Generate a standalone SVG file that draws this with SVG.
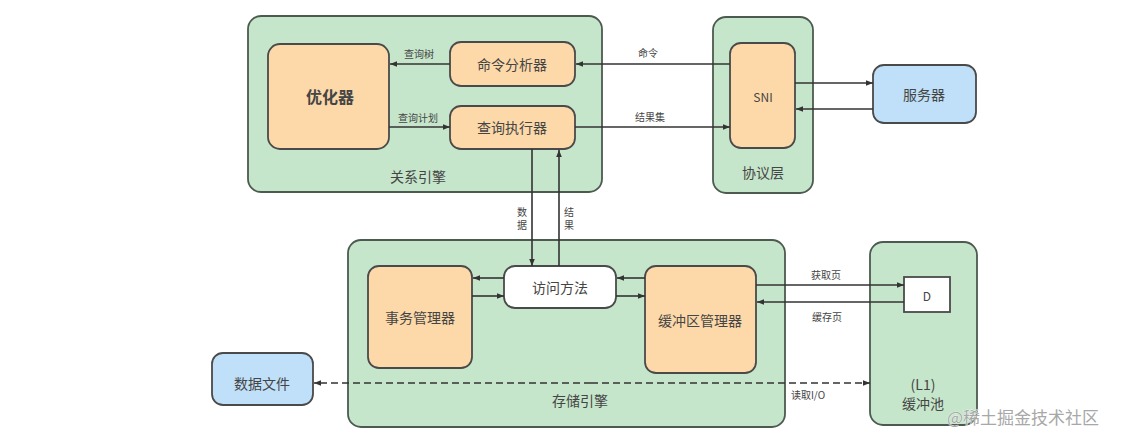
<svg xmlns="http://www.w3.org/2000/svg" width="1122" height="442" viewBox="0 0 1122 442">
<style>
.grp{fill:#c6e6cb;stroke:#4d5a4f;stroke-width:1.8}
.org{fill:#fdd9a9;stroke:#4a4a4a;stroke-width:1.8}
.blu{fill:#bfe0f8;stroke:#4a4a4a;stroke-width:1.8}
.wht{fill:#ffffff;stroke:#4a4a4a;stroke-width:1.8}
.t{font-family:"Noto Sans CJK SC","Liberation Sans",sans-serif;fill:#454545;text-anchor:middle;dominant-baseline:central}
.big{font-size:14px}
.sm{font-size:10px}
.ln{stroke:#333;stroke-width:1.6;fill:none}
.da{stroke:#333;stroke-width:1.6;fill:none;stroke-dasharray:7 4}
</style>
<defs>
<marker id="ah" viewBox="0 0 10 10" refX="10" refY="5" markerWidth="7" markerHeight="7" orient="auto-start-reverse" markerUnits="userSpaceOnUse">
<path d="M0,1 L10,5 L0,9 Z" fill="#333"/>
</marker>
</defs>
<rect width="1122" height="442" fill="#ffffff"/>

<g id="relational-engine">
<rect class="grp" x="248" y="16" width="354" height="176" rx="13"/>
<text class="t big" x="418" y="176">关系引擎</text>
</g>
<g id="optimizer">
<rect class="org" x="268" y="44" width="121" height="105" rx="12"/>
<text class="t" x="330" y="96" style="font-size:16px;font-weight:bold">优化器</text>
</g>
<g id="parser">
<rect class="org" x="450" y="42" width="125" height="44" rx="11"/>
<text class="t big" x="512" y="64">命令分析器</text>
</g>
<g id="executor">
<rect class="org" x="450" y="106" width="125" height="43" rx="11"/>
<text class="t big" x="512" y="127">查询执行器</text>
</g>

<g id="protocol-layer">
<rect class="grp" x="713" y="17" width="100" height="176" rx="13"/>
<text class="t big" x="763" y="172">协议层</text>
</g>
<g id="sni">
<rect class="org" x="730" y="43" width="65" height="105" rx="11"/>
<text class="t" x="763" y="96" style="font-size:12px">SNI</text>
</g>
<g id="server">
<rect class="blu" x="873" y="65" width="103" height="58" rx="11"/>
<text class="t big" x="924" y="94">服务器</text>
</g>

<g id="storage-engine">
<rect class="grp" x="348" y="240" width="437" height="187" rx="13"/>
<text class="t big" x="580" y="400">存储引擎</text>
</g>
<g id="txn-manager">
<rect class="org" x="368" y="266" width="104" height="102" rx="11"/>
<text class="t big" x="420" y="317">事务管理器</text>
</g>
<g id="access-method">
<rect class="wht" x="504" y="266" width="112" height="42" rx="11"/>
<text class="t big" x="560" y="287">访问方法</text>
</g>
<g id="buffer-manager">
<rect class="org" x="645" y="266" width="111" height="107" rx="11"/>
<text class="t big" x="700" y="320">缓冲区管理器</text>
</g>

<g id="buffer-pool">
<rect class="grp" x="870" y="242" width="107" height="183" rx="13"/>
<text class="t big" x="923" y="384">(L1)</text>
<text class="t big" x="923" y="403">缓冲池</text>
</g>
<g id="page-d">
<rect class="wht" x="904" y="277" width="46" height="35" rx="0"/>
<text class="t" x="927" y="295" style="font-size:12px">D</text>
</g>

<g id="data-file">
<rect class="blu" x="212" y="353" width="101" height="52" rx="11"/>
<text class="t big" x="262" y="383">数据文件</text>
</g>

<g id="connectors">
<line class="ln" x1="450" y1="64" x2="390" y2="64" marker-end="url(#ah)"/>
<text class="t sm" x="419" y="53">查询树</text>
<line class="ln" x1="389" y1="127" x2="450" y2="127" marker-end="url(#ah)"/>
<text class="t sm" x="418" y="117">查询计划</text>
<line class="ln" x1="730" y1="64" x2="576" y2="64" marker-end="url(#ah)"/>
<text class="t sm" x="648" y="52">命令</text>
<line class="ln" x1="575" y1="127" x2="730" y2="127" marker-end="url(#ah)"/>
<text class="t sm" x="650" y="116">结果集</text>
<line class="ln" x1="795" y1="83" x2="873" y2="83" marker-end="url(#ah)"/>
<line class="ln" x1="873" y1="109" x2="796" y2="109" marker-end="url(#ah)"/>
<line class="ln" x1="532" y1="149" x2="532" y2="266" marker-end="url(#ah)"/>
<text class="t sm" x="522" y="211">数</text>
<text class="t sm" x="522" y="224">据</text>
<line class="ln" x1="559" y1="266" x2="559" y2="150" marker-end="url(#ah)"/>
<text class="t sm" x="569" y="211">结</text>
<text class="t sm" x="569" y="224">果</text>
<line class="ln" x1="504" y1="278" x2="473" y2="278" marker-end="url(#ah)"/>
<line class="ln" x1="472" y1="296" x2="504" y2="296" marker-end="url(#ah)"/>
<line class="ln" x1="645" y1="278" x2="617" y2="278" marker-end="url(#ah)"/>
<line class="ln" x1="616" y1="296" x2="645" y2="296" marker-end="url(#ah)"/>
<line class="ln" x1="756" y1="285" x2="904" y2="285" marker-end="url(#ah)"/>
<text class="t sm" x="826" y="274">获取页</text>
<line class="ln" x1="904" y1="302" x2="757" y2="302" marker-end="url(#ah)"/>
<text class="t sm" x="827" y="316">缓存页</text>
<line class="da" x1="591" y1="383" x2="314" y2="383" marker-end="url(#ah)"/>
<line class="da" x1="591" y1="383" x2="870" y2="383" marker-end="url(#ah)"/>
<text class="t sm" x="808" y="394">读取I/O</text>
</g>

<text x="947" y="416" style="font-family:'Noto Sans CJK SC',sans-serif;font-size:17px;fill:#a8a8a8;stroke:#ffffff;stroke-width:0.6;paint-order:stroke;dominant-baseline:central">@稀土掘金技术社区</text>
</svg>
